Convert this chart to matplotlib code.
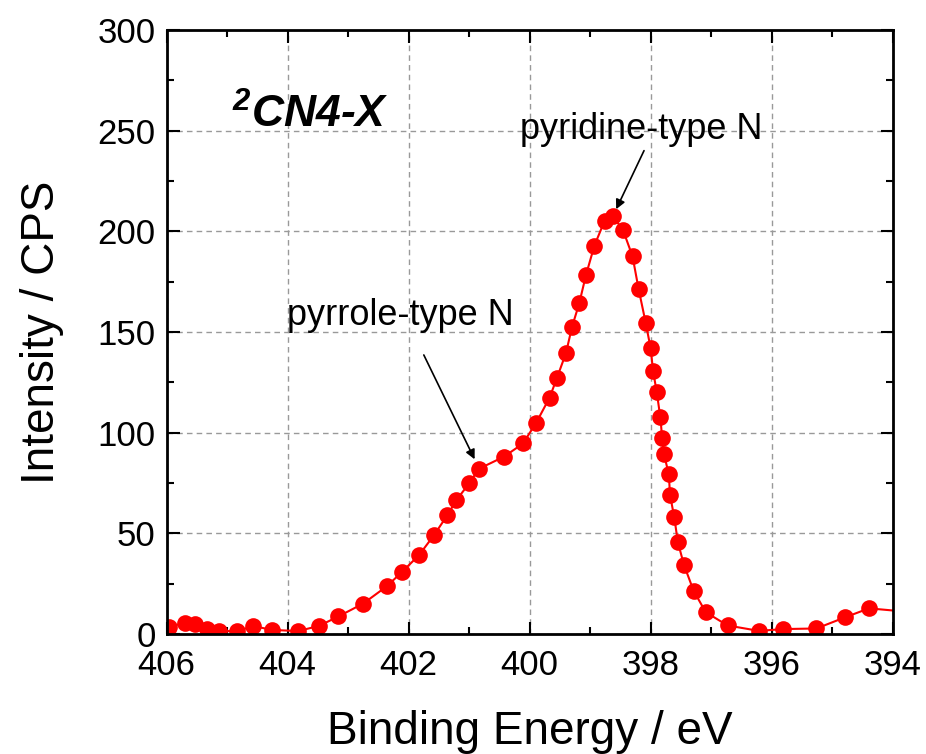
import numpy as np
import matplotlib
matplotlib.use('Agg')
import matplotlib.pyplot as plt
from matplotlib.ticker import MultipleLocator

plt.rcParams['font.family'] = ['Liberation Sans', 'DejaVu Sans']
plt.rcParams['mathtext.fontset'] = 'custom'
plt.rcParams['mathtext.rm'] = 'Liberation Sans:bold:italic'
plt.rcParams['mathtext.it'] = 'Liberation Sans:bold:italic'

# N 1s spectrum (binding energy in eV, intensity in CPS)
energy = [405.96, 405.70, 405.54, 405.33, 405.14, 404.83, 404.57, 404.26, 403.83,
          403.48, 403.16, 402.75, 402.36, 402.11, 401.83, 401.58, 401.36, 401.21,
          401.00, 400.84, 400.42, 400.11, 399.89, 399.67, 399.55, 399.40, 399.30,
          399.18, 399.07, 398.93, 398.76, 398.63, 398.46, 398.30, 398.20, 398.08,
          398.00, 397.96, 397.90, 397.84, 397.81, 397.78, 397.70, 397.68, 397.61,
          397.55, 397.45, 397.29, 397.09, 396.73, 396.21, 395.81, 395.26, 394.79,
          394.39, 393.80]
intensity = [3.6, 5.6, 5.0, 2.5, 1.5, 1.5, 4.0, 2.1, 1.5,
             4.1, 8.8, 15.2, 23.8, 30.9, 39.2, 49.2, 59.1, 66.6,
             74.9, 82.1, 88.2, 94.7, 105.1, 117.5, 127.2, 139.6, 152.6,
             164.4, 178.3, 193.0, 205.4, 207.7, 200.9, 187.7, 171.5, 154.3,
             141.9, 130.6, 120.3, 107.6, 97.5, 89.4, 79.3, 69.1, 58.0,
             45.6, 34.4, 21.5, 10.9, 4.3, 1.6, 2.5, 2.8, 8.3,
             12.8, 11.2]

fig = plt.figure(figsize=(9.26, 7.54), dpi=100)
ax = fig.add_axes([0.18, 0.159, 0.784, 0.801])

ax.plot(energy, intensity, color='red', lw=1.5, marker='o', markersize=12,
        markeredgewidth=0)

ax.set_xlim(406, 394)
ax.set_ylim(0, 300)
ax.xaxis.set_major_locator(MultipleLocator(2))
ax.xaxis.set_minor_locator(MultipleLocator(1))
ax.yaxis.set_major_locator(MultipleLocator(50))
ax.yaxis.set_minor_locator(MultipleLocator(25))
ax.tick_params(which='both', direction='in', top=True, right=True, width=1.5)
ax.tick_params(which='major', length=9, labelsize=25, pad=8)
ax.tick_params(axis='x', which='major', pad=11)
ax.tick_params(which='minor', length=5)
for s in ax.spines.values():
    s.set_linewidth(2)
ax.grid(True, which='major', ls=(0, (4, 3)), color='#999999', lw=1)

ax.set_xlabel('Binding Energy / eV', fontsize=33, labelpad=20)
ax.set_ylabel('Intensity / CPS', fontsize=33, labelpad=24)

ax.text(0.09, 0.839, r'$^2$CN4-X', transform=ax.transAxes, fontsize=32,
        fontweight='bold', fontstyle='italic', ha='left', va='baseline')

ax.text(398.16, 245.9, 'pyridine-type N', fontsize=26, ha='center', va='baseline')
ax.annotate('', xy=(398.59, 209.8), xytext=(398.09, 241.4),
            arrowprops=dict(arrowstyle='-|>', color='black', lw=1.2, mutation_scale=14))
ax.text(402.14, 153.5, 'pyrrole-type N', fontsize=26, ha='center', va='baseline')
ax.annotate('', xy=(400.89, 85.6), xytext=(401.77, 139.9),
            arrowprops=dict(arrowstyle='-|>', color='black', lw=1.2, mutation_scale=14))

fig.savefig('out.png', dpi=100)
